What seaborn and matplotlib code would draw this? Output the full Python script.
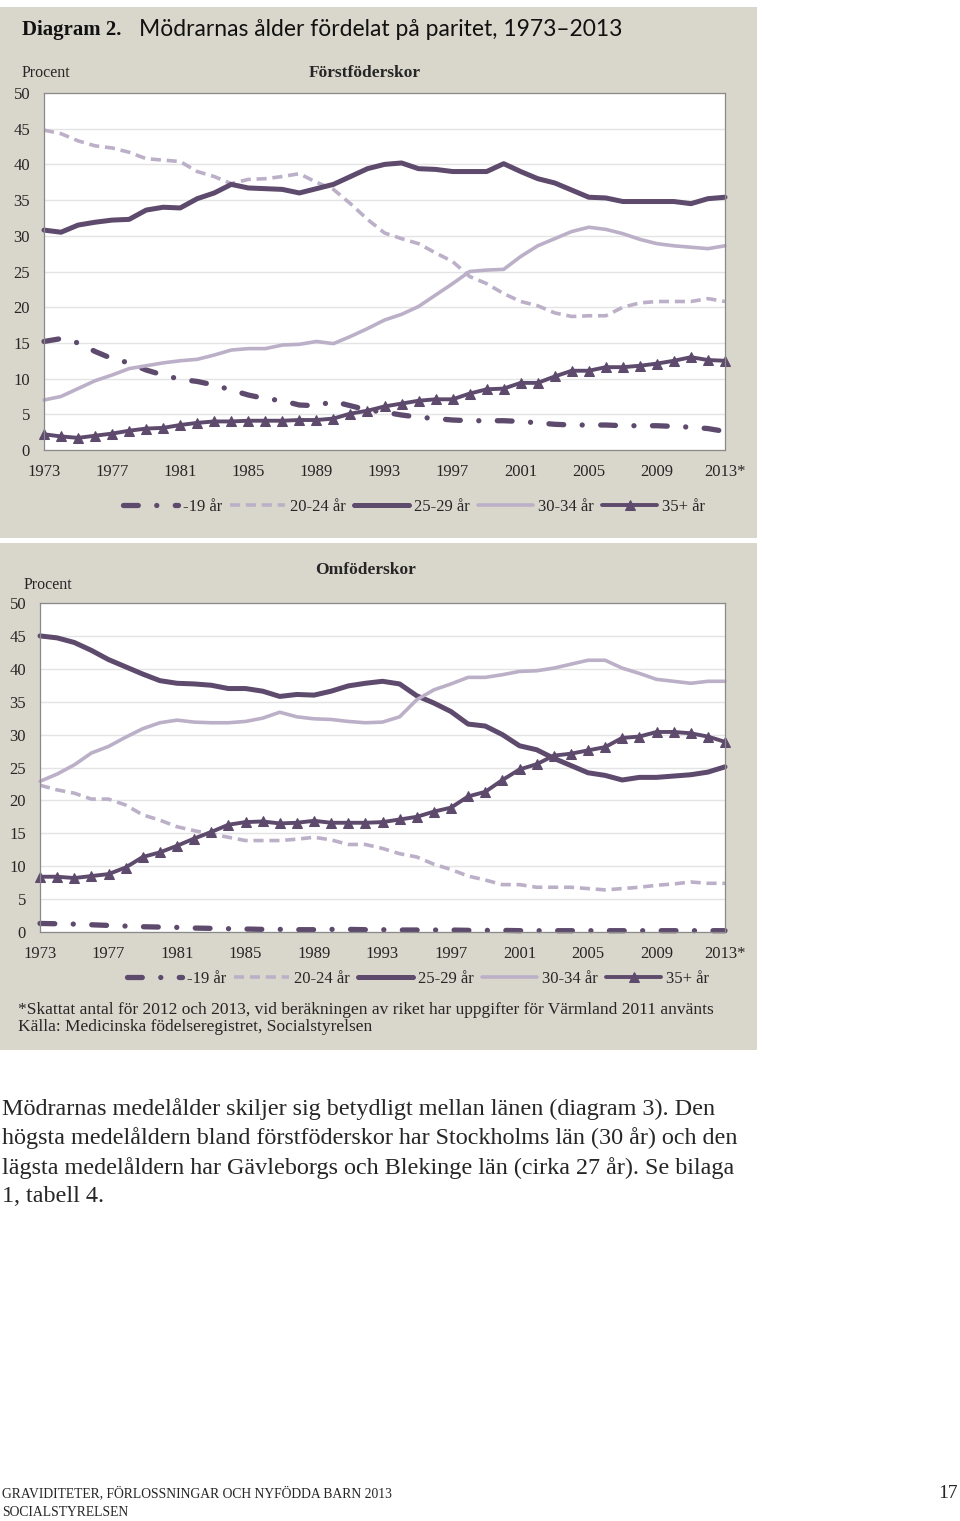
import matplotlib
matplotlib.use("Agg")
import matplotlib.pyplot as plt
from matplotlib.patches import Rectangle
from matplotlib.ticker import MultipleLocator
import seaborn as sns

# Data: share of mothers (%) by age group, 1973-2013
years = list(range(1973, 2014))
groups = ["-19 år", "20-24 år", "25-29 år", "30-34 år", "35+ år"]

# Förstföderskor
first_19 = [15.2, 15.6, 15.0, 13.8, 12.8, 12.2, 11.2, 10.5, 9.9, 9.6, 9.1, 8.4, 7.7, 7.2, 6.9,
            6.3, 6.2, 6.8, 6.2, 5.6, 5.3, 4.9, 4.6, 4.4, 4.2, 4.1, 4.1, 4.1, 4.0, 3.8, 3.6,
            3.5, 3.5, 3.5, 3.4, 3.4, 3.4, 3.3, 3.2, 3.0, 2.6]
first_20 = [44.8, 44.3, 43.3, 42.6, 42.3, 41.7, 40.8, 40.6, 40.4, 39.0, 38.3, 37.3, 37.9, 38.0, 38.3,
            38.7, 37.5, 36.5, 34.5, 32.3, 30.4, 29.6, 28.9, 27.6, 26.4, 24.3, 23.3, 21.9, 20.8, 20.2,
            19.2, 18.7, 18.8, 18.8, 20.0, 20.6, 20.8, 20.8, 20.8, 21.2, 20.8]
first_25 = [30.8, 30.5, 31.5, 31.9, 32.2, 32.3, 33.6, 34.0, 33.9, 35.2, 36.0, 37.2, 36.7, 36.6, 36.5,
            36.0, 36.6, 37.2, 38.3, 39.4, 40.0, 40.2, 39.4, 39.3, 39.0, 39.0, 39.0, 40.1, 39.0, 38.0,
            37.4, 36.4, 35.4, 35.3, 34.8, 34.8, 34.8, 34.8, 34.5, 35.2, 35.4]
first_30 = [7.0, 7.5, 8.6, 9.7, 10.5, 11.4, 11.8, 12.2, 12.5, 12.7, 13.3, 14.0, 14.2, 14.2, 14.7,
            14.8, 15.2, 14.9, 15.9, 17.0, 18.2, 19.0, 20.1, 21.7, 23.3, 25.0, 25.2, 25.3, 27.1, 28.6,
            29.6, 30.6, 31.2, 30.9, 30.3, 29.5, 28.9, 28.6, 28.4, 28.2, 28.6]
first_35 = [2.2, 1.9, 1.7, 2.0, 2.3, 2.7, 3.0, 3.1, 3.5, 3.8, 4.0, 4.0, 4.1, 4.1, 4.1,
            4.2, 4.2, 4.4, 5.1, 5.5, 6.1, 6.5, 6.9, 7.1, 7.1, 7.9, 8.5, 8.6, 9.4, 9.4,
            10.3, 11.1, 11.1, 11.6, 11.6, 11.8, 12.1, 12.5, 13.0, 12.6, 12.5]

# Omföderskor
multi_19 = [1.3, 1.25, 1.2, 1.1, 1.0, 0.9, 0.8, 0.75, 0.7, 0.6, 0.55, 0.5, 0.45, 0.4, 0.4,
            0.35, 0.35, 0.4, 0.4, 0.35, 0.35, 0.3, 0.3, 0.3, 0.3, 0.25, 0.25, 0.25, 0.2, 0.2,
            0.2, 0.2, 0.2, 0.2, 0.2, 0.2, 0.2, 0.2, 0.2, 0.2, 0.2]
multi_20 = [22.3, 21.6, 21.1, 20.2, 20.2, 19.3, 17.8, 17.0, 16.0, 15.4, 14.9, 14.4, 13.9, 13.9, 13.9,
            14.1, 14.4, 14.0, 13.3, 13.3, 12.7, 11.9, 11.4, 10.3, 9.5, 8.5, 7.9, 7.2, 7.2, 6.8,
            6.8, 6.8, 6.6, 6.4, 6.6, 6.8, 7.1, 7.3, 7.6, 7.4, 7.4]
multi_25 = [45.0, 44.7, 44.0, 42.8, 41.4, 40.3, 39.2, 38.2, 37.8, 37.7, 37.5, 37.0, 37.0, 36.6, 35.8,
            36.1, 36.0, 36.6, 37.4, 37.8, 38.1, 37.7, 35.9, 34.8, 33.5, 31.6, 31.3, 30.0, 28.3, 27.7,
            26.4, 25.3, 24.2, 23.8, 23.1, 23.5, 23.5, 23.7, 23.9, 24.3, 25.1]
multi_30 = [22.9, 24.0, 25.4, 27.2, 28.2, 29.6, 30.9, 31.8, 32.2, 31.9, 31.8, 31.8, 32.0, 32.5, 33.4,
            32.7, 32.4, 32.3, 32.0, 31.8, 31.9, 32.7, 35.3, 36.8, 37.7, 38.7, 38.7, 39.1, 39.6, 39.7,
            40.1, 40.7, 41.3, 41.3, 40.1, 39.3, 38.4, 38.1, 37.8, 38.1, 38.1]
multi_35 = [8.4, 8.4, 8.2, 8.5, 8.8, 9.8, 11.4, 12.1, 13.1, 14.2, 15.2, 16.3, 16.7, 16.8, 16.5,
            16.6, 16.9, 16.6, 16.6, 16.6, 16.7, 17.1, 17.5, 18.3, 18.9, 20.6, 21.3, 23.1, 24.7, 25.5,
            26.8, 27.1, 27.6, 28.1, 29.5, 29.7, 30.4, 30.4, 30.2, 29.7, 28.9]

tick_years = list(range(1973, 2014, 4))
tick_labels = [str(y) for y in tick_years[:-1]] + ["2013*"]

DARK = "#5d4a6c"
LIGHT = "#bcb0c8"
BG = "#d9d7cc"
SERIF = "Liberation Serif"

# style per group: color, linewidth, dashes (None = solid), marker
styles = {
    "-19 år": dict(color=DARK, lw=3.8, dashes=(2.8, 3.5, 0.01, 3.5), marker=None),
    "20-24 år": dict(color=LIGHT, lw=2.6, dashes=(2.8, 1.6), marker=None),
    "25-29 år": dict(color=DARK, lw=3.6, dashes=None, marker=None),
    "30-34 år": dict(color=LIGHT, lw=2.6, dashes=None, marker=None),
    "35+ år": dict(color=DARK, lw=2.8, dashes=None, marker="^"),
}

sns.set_style("white")
plt.rcParams["font.family"] = [SERIF, "DejaVu Serif"]

W, H = 960, 1521
fig = plt.figure(figsize=(W / 100, H / 100), dpi=100)


def fx(px):
    return px / W


def fy(py):
    return 1 - py / H


# grey chart panels (behind the axes)
fig.patches.append(Rectangle((0, fy(538)), fx(757), (538 - 7) / H, transform=fig.transFigure,
                             facecolor=BG, edgecolor="none", zorder=-10))
fig.patches.append(Rectangle((0, fy(1050)), fx(757), (1050 - 543) / H, transform=fig.transFigure,
                             facecolor=BG, edgecolor="none", zorder=-10))


def draw_panel(ax, series):
    handles = []
    for name, vals in zip(groups, series):
        st = styles[name]
        sns.lineplot(x=years, y=vals, ax=ax, color=st["color"], linewidth=st["lw"],
                     marker=st["marker"], markersize=7.5 if st["marker"] else 0,
                     markeredgecolor=st["color"], markerfacecolor=st["color"],
                     legend=False, clip_on=False)
        line = ax.lines[-1]
        if st["dashes"] is not None:
            line.set_dashes(st["dashes"])
        if name == "-19 år":
            line.set_dash_capstyle("round")
        handles.append(line)
    ax.set_xlim(1973, 2013)
    ax.set_ylim(0, 50)
    ax.set_facecolor("white")
    ax.yaxis.set_major_locator(MultipleLocator(5))
    ax.set_xticks(tick_years)
    ax.set_xticklabels(tick_labels)
    ax.xaxis.set_minor_locator(MultipleLocator(1))
    ax.tick_params(axis="x", which="both", direction="in", length=4, width=0.8,
                   color="#808080", pad=10, labelsize=12)
    ax.tick_params(axis="y", which="both", length=0, pad=10, labelsize=12)
    ax.grid(axis="y", color="#e4e4e4", linewidth=1)
    ax.set_axisbelow(True)
    for side in ["left", "bottom", "top", "right"]:
        ax.spines[side].set_visible(True)
        ax.spines[side].set_color("#8a8a8a")
        ax.spines[side].set_linewidth(0.9)
    ax.set_xlabel("")
    ax.set_ylabel("")
    return handles


# top panel: Förstföderskor
ax1 = fig.add_axes([fx(44), fy(450), fx(725 - 44), (450 - 93) / H])
h1 = draw_panel(ax1, [first_19, first_20, first_25, first_30, first_35])

# bottom panel: Omföderskor
ax2 = fig.add_axes([fx(40), fy(932), fx(725 - 40), (932 - 603) / H])
h2 = draw_panel(ax2, [multi_19, multi_20, multi_25, multi_30, multi_35])

leg_kw = dict(loc="center", ncol=5, frameon=False, handlelength=3.3, handletextpad=0.3,
              columnspacing=0.5, prop={"family": SERIF, "size": 12})
fig.legend(h1, groups, bbox_to_anchor=(fx(414), fy(507)), **leg_kw)
fig.legend(h2, groups, bbox_to_anchor=(fx(418), fy(979)), **leg_kw)

# titles and labels
fig.text(fx(22), fy(30), "Diagram 2.", fontsize=15, fontweight="bold", family=SERIF,
         va="center", ha="left", color="#111111")
fig.text(fx(139), fy(29), "Mödrarnas ålder fördelat på paritet, 1973–2013", fontsize=16.5,
         family=["Lato", "DejaVu Sans"], va="center", ha="left", color="#111111")
fig.text(fx(22), fy(73), "Procent", fontsize=11.5, va="center", ha="left")
fig.text(fx(365), fy(73), "Förstföderskor", fontsize=12.5, fontweight="bold", va="center", ha="center")
fig.text(fx(365), fy(570), "Omföderskor", fontsize=12.5, fontweight="bold", va="center", ha="center")
fig.text(fx(24), fy(585), "Procent", fontsize=11.5, va="center", ha="left")

fig.text(fx(18), fy(1010), "*Skattat antal för 2012 och 2013, vid beräkningen av riket har uppgifter "
         "för Värmland 2011 använts", fontsize=12.5, va="center", ha="left")
fig.text(fx(18), fy(1027), "Källa: Medicinska födelseregistret, Socialstyrelsen", fontsize=12.5,
         va="center", ha="left")

body = [
    "Mödrarnas medelålder skiljer sig betydligt mellan länen (diagram 3). Den",
    "högsta medelåldern bland förstföderskor har Stockholms län (30 år) och den",
    "lägsta medelåldern har Gävleborgs och Blekinge län (cirka 27 år). Se bilaga",
    "1, tabell 4.",
]
for i, line in enumerate(body):
    fig.text(fx(2), fy(1109 + 29.3 * i), line, fontsize=17.4, va="center", ha="left")

fig.text(fx(2), fy(1493), "GRAVIDITETER, FÖRLOSSNINGAR OCH NYFÖDDA BARN 2013", fontsize=9.8,
         va="center", ha="left")
fig.text(fx(2), fy(1513), "SOCIALSTYRELSEN", fontsize=9.8, va="center", ha="left")
fig.text(fx(958), fy(1493), "17", fontsize=14, va="center", ha="right")

fig.savefig("out.png", dpi=100, facecolor="white")
